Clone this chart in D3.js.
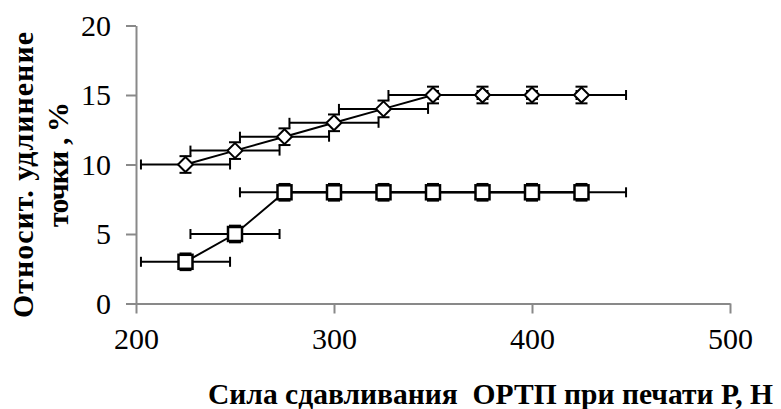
<!DOCTYPE html>
<html>
<head>
<meta charset="utf-8">
<script src="https://cdn.jsdelivr.net/npm/d3@7"></script>
<style>
body { margin: 0; background: #fff; }
</style>
</head>
<body>
<svg width="781" height="409"></svg>
<script>
// chart data
var pressure = [225, 250, 275, 300, 325, 350, 375, 400, 425];
var elongDiamond = [10, 11, 12, 13, 14, 15, 15, 15, 15];
var elongSquare = [3, 5, 8, 8, 8, 8, 8, 8, 8];
var xErrors = [22.5, 22.5, 22.5, 22.5, 22.5, 22.5, 22.5, 22.5, 22.5];
var yErrors = [0.6, 0.6, 0.6, 0.6, 0.6, 0.6, 0.6, 0.6, 0.6];
var xTicks = [200, 300, 400, 500];
var yTicks = [0, 5, 10, 15, 20];
var yTitle = ["Относит. удлинение", "точки , %"];
var xTitle = "Сила сдавливания  ОРТП при печати Р, Н";

var svg = d3.select("svg");
var axisColor = "#898989";
var serif = "Liberation Serif, serif";

var x = d3.scaleLinear().domain([200, 500]).range([136, 730]);
var y = d3.scaleLinear().domain([0, 20]).range([303.5, 25.5]);

//axes
var xAxis = svg.append("g")
	.attr("transform", "translate(0," + y(0) + ")")
	.call(d3.axisBottom(x).tickValues(xTicks).tickSize(10).tickSizeOuter(0).tickPadding(14));
var yAxis = svg.append("g")
	.attr("transform", "translate(" + x(200) + ",0)")
	.call(d3.axisLeft(y).tickValues(yTicks).tickSize(10).tickSizeOuter(0).tickPadding(15));

[xAxis, yAxis].forEach(function(g)
{
	g.select(".domain").attr("stroke", axisColor).attr("stroke-width", 2);
	g.selectAll(".tick line").attr("stroke", axisColor).attr("stroke-width", 2);
	g.selectAll(".tick text")
		.attr("fill", "#000")
		.style("font-family", serif)
		.style("font-size", "30px");
});
yAxis.selectAll(".tick text").attr("dy", "0.33em");

//error bars for one series
function drawErrors(values)
{
	var g = svg.append("g").attr("stroke", "#000").attr("stroke-width", 2).attr("fill", "none");
	values.forEach(function(v, i)
	{
		var px = x(pressure[i]), py = y(v);
		var x0 = x(pressure[i] - xErrors[i]), x1 = x(pressure[i] + xErrors[i]);
		var y0 = y(v - yErrors[i]), y1 = y(v + yErrors[i]);
		g.append("line").attr("x1", x0).attr("x2", x1).attr("y1", py).attr("y2", py);
		g.append("line").attr("x1", x0).attr("x2", x0).attr("y1", py - 5).attr("y2", py + 5);
		g.append("line").attr("x1", x1).attr("x2", x1).attr("y1", py - 5).attr("y2", py + 5);
		g.append("line").attr("x1", px).attr("x2", px).attr("y1", y0).attr("y2", y1);
		g.append("line").attr("x1", px - 6).attr("x2", px + 6).attr("y1", y0).attr("y2", y0);
		g.append("line").attr("x1", px - 6).attr("x2", px + 6).attr("y1", y1).attr("y2", y1);
	});
}

var line = d3.line()
	.x(function(d, i) { return x(pressure[i]); })
	.y(function(d) { return y(d); });

function drawLine(values)
{
	svg.append("path")
		.attr("d", line(values))
		.attr("fill", "none")
		.attr("stroke", "#000")
		.attr("stroke-width", 2);
}

drawErrors(elongDiamond);
drawErrors(elongSquare);
drawLine(elongDiamond);
drawLine(elongSquare);

//markers
svg.append("g").selectAll("path")
	.data(elongDiamond)
	.join("path")
	.attr("d", "M0,-7.5L7.5,0L0,7.5L-7.5,0Z")
	.attr("transform", function(d, i) { return "translate(" + x(pressure[i]) + "," + y(d) + ")"; })
	.attr("fill", "#fff")
	.attr("stroke", "#000")
	.attr("stroke-width", 2);

svg.append("g").selectAll("rect")
	.data(elongSquare)
	.join("rect")
	.attr("x", function(d, i) { return x(pressure[i]) - 7; })
	.attr("y", function(d) { return y(d) - 7; })
	.attr("width", 14)
	.attr("height", 14)
	.attr("fill", "#fff")
	.attr("stroke", "#000")
	.attr("stroke-width", 2.5);

//titles
function title(txt, tx, ty, rot, len, adjust, anchor)
{
	return svg.append("text")
		.attr("transform", "translate(" + tx + "," + ty + ") rotate(" + rot + ")")
		.attr("text-anchor", anchor)
		.attr("textLength", len)
		.attr("lengthAdjust", adjust)
		.attr("xml:space", "preserve")
		.style("font-family", serif)
		.style("font-size", "30px")
		.style("font-weight", "bold")
		.text(txt);
}
title(yTitle[0], 33, 175, -90, 286, "spacing", "middle");
title(yTitle[1], 68, 164.5, -90, 125, "spacing", "middle");
title(xTitle, 208, 404, 0, 565, "spacingAndGlyphs", "start");
</script>
</body>
</html>
